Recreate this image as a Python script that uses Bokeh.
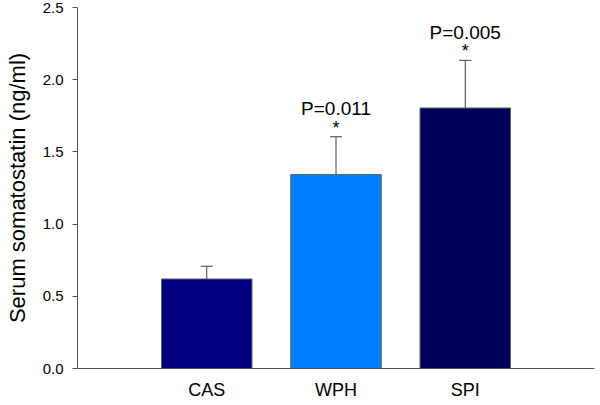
from bokeh.plotting import figure
from bokeh.models import Range1d, FixedTicker, NumeralTickFormatter, Whisker, TeeHead, ColumnDataSource
from bokeh.core.properties import value
from bokeh.embed import file_html
from bokeh.resources import INLINE

categories = ["CAS", "WPH", "SPI"]
means = [0.62, 1.343, 1.804]
errors = [0.088, 0.262, 0.330]
colors = ["#000080", "#0080FF", "#00005A"]
p_labels = ["", "P=0.011", "P=0.005"]
stars = ["", "*", "*"]
y_ticks = [0.0, 0.5, 1.0, 1.5, 2.0, 2.5]

xs = list(range(1, len(categories) + 1))
tops = [m + e for m, e in zip(means, errors)]

src = ColumnDataSource(dict(x=xs, top=means, upper=tops, color=colors,
                            plab=p_labels, star=stars))

FONT = "Liberation Sans"

p = figure(width=596, height=402, output_backend="svg", toolbar_location=None,
           x_range=Range1d(0, len(categories) + 1), y_range=Range1d(0, 2.5),
           min_border_left=77, min_border_right=2, min_border_top=7, min_border_bottom=32)
p.outline_line_color = None
p.grid.visible = False
p.background_fill_color = "white"

p.vbar(x="x", top="top", bottom=0, width=0.7, fill_color="color",
       line_color="#606060", line_width=1, source=src)

w = Whisker(base="x", lower="top", upper="upper", source=src,
            line_color="#404040", line_width=1,
            upper_head=TeeHead(size=12, line_color="#404040", line_width=1),
            lower_head=None)
p.add_layout(w)

p.text(x="x", y="upper", text="plab", source=src, y_offset=-28,
       text_align="center", text_baseline="alphabetic",
       text_font=value(FONT), text_font_size="19px", text_color="black")
p.text(x="x", y="upper", text="star", source=src, y_offset=-9,
       text_align="center", text_baseline="alphabetic",
       text_font=value(FONT), text_font_size="18px", text_color="black")

# y axis
ya = p.yaxis[0]
ya.ticker = FixedTicker(ticks=y_ticks)
ya.formatter = NumeralTickFormatter(format="0.0")
ya.bounds = (0, 2.5)
ya.axis_label = "Serum somatostatin (ng/ml)"
ya.axis_label_text_font = FONT
ya.axis_label_text_font_size = "22px"
ya.axis_label_text_font_style = "normal"
ya.axis_label_text_color = "black"
ya.axis_label_standoff = 10
ya.major_label_text_font = FONT
ya.major_label_text_font_size = "15px"
ya.major_label_text_color = "black"
ya.major_label_standoff = 9
ya.major_tick_out = 5
ya.major_tick_in = 0
ya.minor_tick_out = 0
ya.minor_tick_in = 0
ya.axis_line_color = "#505050"
ya.major_tick_line_color = "#505050"

# x axis
xa = p.xaxis[0]
xa.ticker = FixedTicker(ticks=xs)
xa.major_label_overrides = {x: c for x, c in zip(xs, categories)}
xa.major_label_text_font = FONT
xa.major_label_text_font_size = "18px"
xa.major_label_text_color = "black"
xa.major_label_standoff = 11
xa.major_tick_out = 0
xa.major_tick_in = 0
xa.minor_tick_out = 0
xa.minor_tick_in = 0
xa.axis_line_color = "#505050"

open("out.html", "w").write(file_html(p, INLINE))
